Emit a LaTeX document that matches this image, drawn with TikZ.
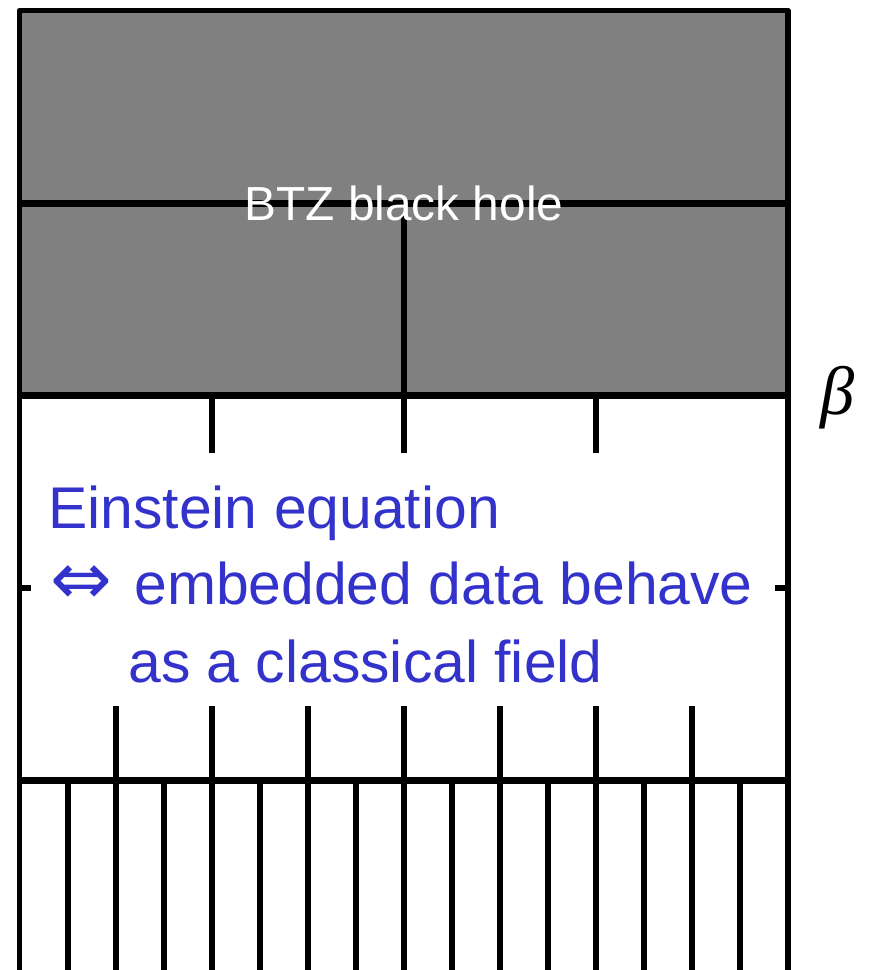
\documentclass[tikz,border=0pt]{standalone}
\usepackage{fontspec}
\setmainfont{Liberation Sans}
\newfontfamily\arrowfont{DejaVu Sans}
\newfontfamily\betafont{Liberation Serif}
\usepackage{xcolor}
\usepackage{tikz}
\definecolor{hole}{HTML}{808080}
\definecolor{eqblue}{HTML}{3333CC}
\tikzset{
  wall/.style={line width=0.12cm},
  slab/.style={line width=0.14cm},
  tick/.style={line width=0.12cm},
  holelbl/.style={font=\fontsize{27.2}{30}\selectfont,text=white,inner sep=0pt,anchor=base},
  eqlbl/.style={font=\fontsize{33.5}{44}\selectfont,text=eqblue,inner sep=0pt,anchor=base west},
  templbl/.style={font=\betafont\itshape\fontsize{39}{44}\selectfont,inner sep=0pt,anchor=base},
}

\begin{document}
\begin{tikzpicture}[x=0.02cm,y=-0.02cm]
  \useasboundingbox (0,0) rectangle (869,970);
  % black hole on top
  \fill[hole] (19.5,10.5) rectangle (787.5,395);
  \draw[wall,line join=round] (19.5,970) -- (19.5,10.5) -- (787.5,10.5) -- (787.5,970);
  \draw[slab] (19.5,203) -- (787.5,203);
  \draw[wall] (403.5,216) -- (403.5,395);
  \draw[slab] (19.5,395) -- (787.5,395);
  \draw[slab] (19.5,780) -- (787.5,780);
  % ticks hanging from the horizon
  \foreach \i in {4,8,12} \draw[tick] (19.5+48*\i,395) -- (19.5+48*\i,453);
  % ticks at the sides
  \draw[tick] (19.5,588) -- (31,588);
  \draw[tick] (775,588) -- (787.5,588);
  % ticks standing on the boundary
  \foreach \i in {2,4,...,14} \draw[tick] (19.5+48*\i,706) -- (19.5+48*\i,780);
  % boundary strips
  \foreach \i in {1,...,15} \draw[tick] (19.5+48*\i,780) -- (19.5+48*\i,970);
  % labels
  \node[holelbl] (btz) at (404,220) {BTZ black hole};
  \node[templbl] (beta) at (838,414) {β};
  \node[eqlbl] (eq1) at (48,528) {Einstein equation};
  \node[eqlbl] (eq2) at (50,604) {\makebox[1.68cm][l]{\arrowfont\fontsize{42}{44}\selectfont ⇔}embedded data behave};
  \node[eqlbl] (eq3) at (128,682) {as a classical field};
\end{tikzpicture}
\end{document}
